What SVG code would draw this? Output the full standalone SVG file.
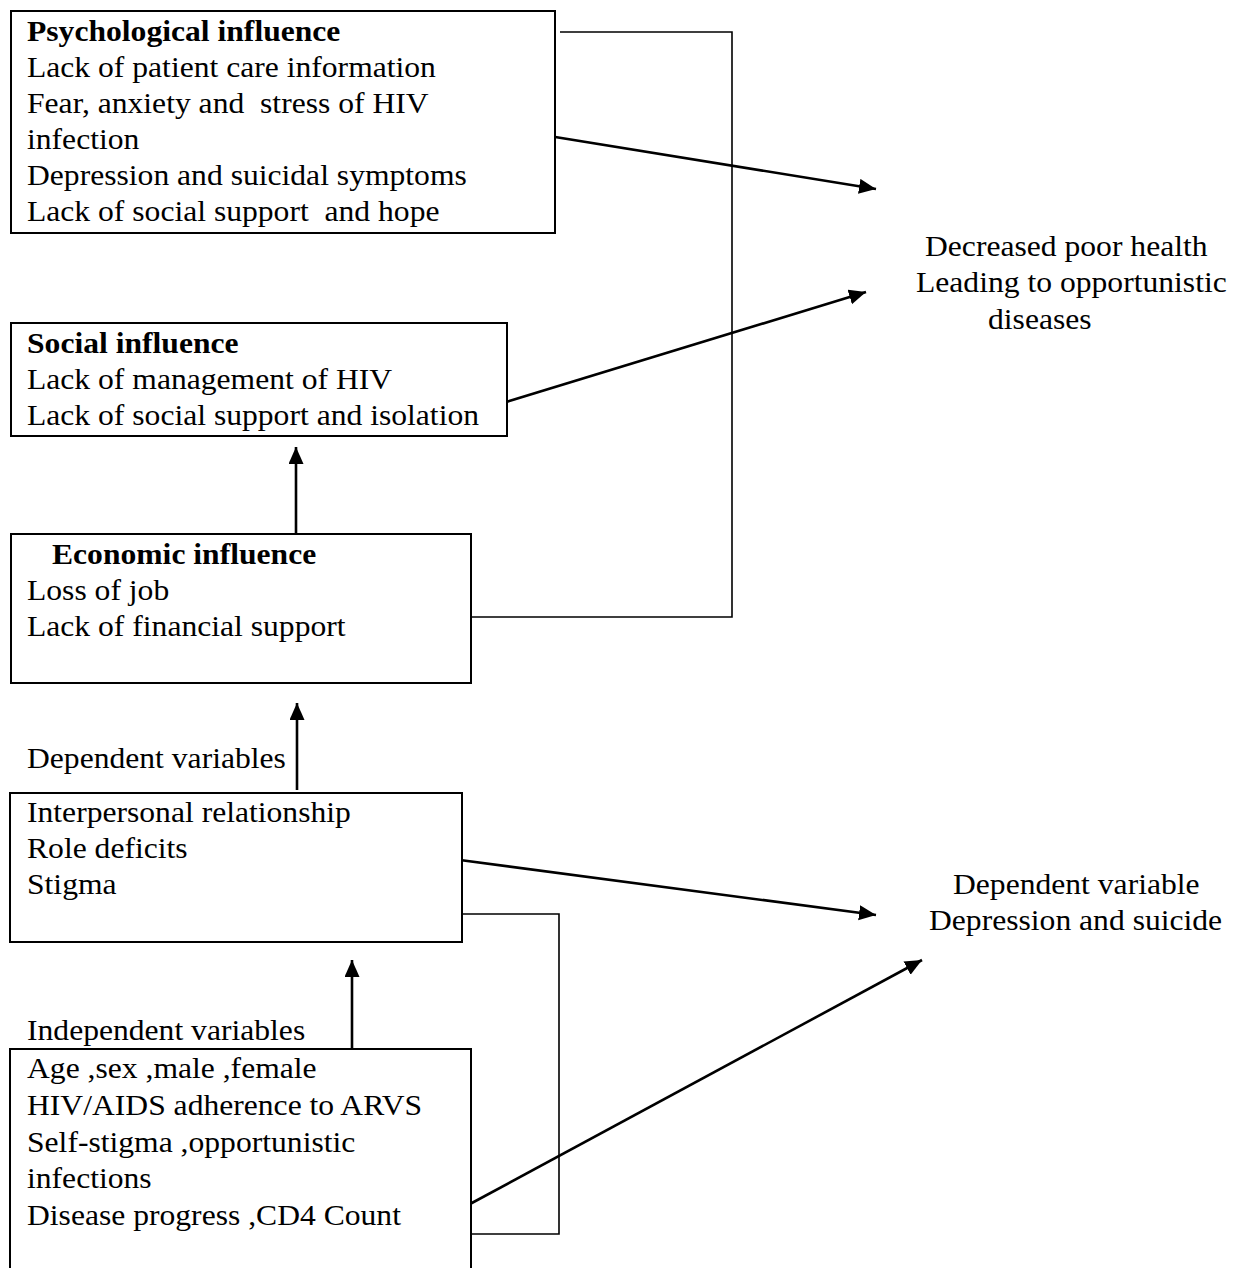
<svg xmlns="http://www.w3.org/2000/svg" width="1237" height="1268" viewBox="0 0 1237 1268">
<style>
.box{fill:#fff;stroke:#000;stroke-width:2}
.t{font-family:"Liberation Serif","Times New Roman",serif;font-size:29px;fill:#000}
.b{font-weight:bold}
.arr{fill:none;stroke:#000;stroke-width:2.6;marker-end:url(#ah)}
.ln{fill:none;stroke:#000;stroke-width:1.6}
</style>
<defs>
<marker id="ah" markerUnits="userSpaceOnUse" markerWidth="19" markerHeight="17" refX="17" refY="7.5" orient="auto">
<path d="M0,0 L17,7.5 L0,15 z" fill="#000"/>
</marker>
</defs>
<rect width="1237" height="1268" fill="#fff"/>
<g id="connectors">
<polyline class="ln" points="560,32 732,32 732,617 471,617"/>
<polyline class="ln" points="460,914 559,914 559,1234 470,1234"/>
<line class="arr" x1="549" y1="136" x2="876" y2="189"/>
<line class="arr" x1="506" y1="402" x2="866" y2="292"/>
<line class="arr" x1="296" y1="534" x2="296" y2="447"/>
<line class="arr" x1="297" y1="790" x2="297" y2="703"/>
<line class="arr" x1="460" y1="860" x2="876" y2="915"/>
<line class="arr" x1="352" y1="1051" x2="352" y2="960"/>
<line class="arr" x1="470" y1="1204" x2="922" y2="960"/>
</g>
<g id="psychological">
<rect class="box" x="11" y="11" width="544" height="222"/>
<text class="t b" transform="translate(27,41) scale(1.09,1)">Psychological influence</text>
<text class="t" transform="translate(27,77) scale(1.09,1)">Lack of patient care information</text>
<text class="t" transform="translate(27,113) scale(1.09,1)" xml:space="preserve">Fear, anxiety and  stress of HIV</text>
<text class="t" transform="translate(27,149) scale(1.09,1)">infection</text>
<text class="t" transform="translate(27,185) scale(1.09,1)">Depression and suicidal symptoms</text>
<text class="t" transform="translate(27,221) scale(1.09,1)" xml:space="preserve">Lack of social support  and hope</text>
</g>
<g id="social">
<rect class="box" x="11" y="323" width="496" height="113"/>
<text class="t b" transform="translate(27,353) scale(1.09,1)">Social influence</text>
<text class="t" transform="translate(27,389) scale(1.09,1)">Lack of management of HIV</text>
<text class="t" transform="translate(27,425) scale(1.09,1)">Lack of social support and isolation</text>
</g>
<g id="economic">
<rect class="box" x="11" y="534" width="460" height="149"/>
<text class="t b" transform="translate(52,564) scale(1.09,1)">Economic influence</text>
<text class="t" transform="translate(27,600) scale(1.09,1)">Loss of job</text>
<text class="t" transform="translate(27,636) scale(1.09,1)">Lack of financial support</text>
</g>
<g id="dependent-label">
<text class="t" transform="translate(27,768) scale(1.09,1)">Dependent variables</text>
</g>
<g id="interpersonal">
<rect class="box" x="10" y="793" width="452" height="149"/>
<text class="t" transform="translate(27,822) scale(1.09,1)">Interpersonal relationship</text>
<text class="t" transform="translate(27,858) scale(1.09,1)">Role deficits</text>
<text class="t" transform="translate(27,894) scale(1.09,1)">Stigma</text>
</g>
<g id="independent-label">
<text class="t" transform="translate(27,1040) scale(1.09,1)">Independent variables</text>
</g>
<g id="independent">
<path class="box" d="M10,1270 V1049 H471 V1270"/>
<text class="t" transform="translate(27,1078) scale(1.09,1)">Age ,sex ,male ,female</text>
<text class="t" transform="translate(27,1115) scale(1.09,1)">HIV/AIDS adherence to ARVS</text>
<text class="t" transform="translate(27,1152) scale(1.09,1)">Self-stigma ,opportunistic</text>
<text class="t" transform="translate(27,1188) scale(1.09,1)">infections</text>
<text class="t" transform="translate(27,1225) scale(1.09,1)">Disease progress ,CD4 Count</text>
</g>
<g id="outcome-health">
<text class="t" transform="translate(925,256) scale(1.09,1)">Decreased poor health</text>
<text class="t" transform="translate(916,292) scale(1.09,1)">Leading to opportunistic</text>
<text class="t" transform="translate(988,329) scale(1.09,1)">diseases</text>
</g>
<g id="outcome-depression">
<text class="t" transform="translate(953,894) scale(1.09,1)">Dependent variable</text>
<text class="t" transform="translate(929,930) scale(1.09,1)">Depression and suicide</text>
</g>
</svg>
